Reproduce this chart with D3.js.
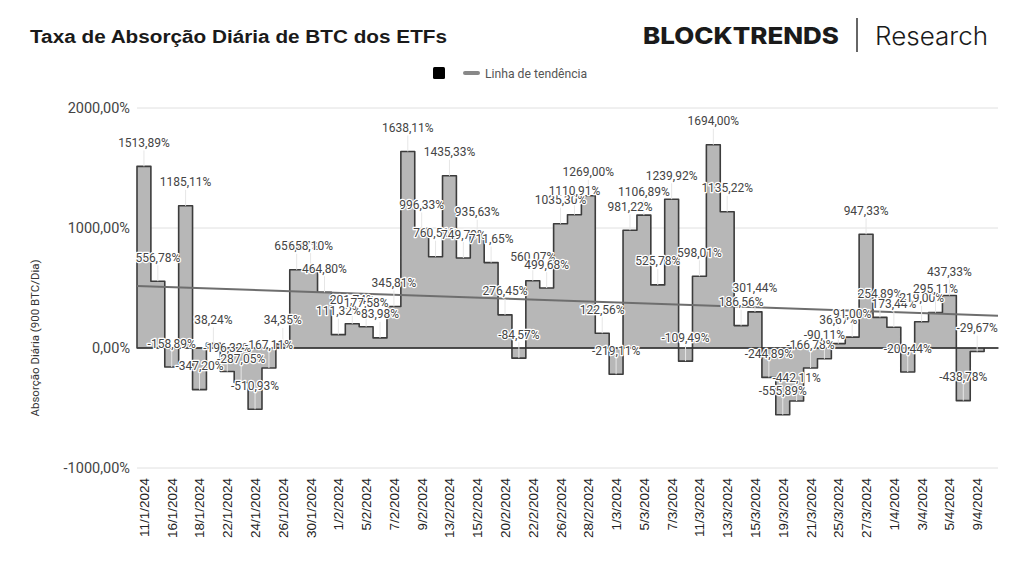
<!DOCTYPE html>
<html>
<head>
<meta charset="utf-8">
<script src="https://cdn.jsdelivr.net/npm/d3@7"></script>
<style>
  body { margin: 0; background: #fff; }
  #svgContainer { width: 1024px; height: 571px; }
</style>
</head>
<body>
<div id="svgContainer"></div>
<script>
// dias de negociacao (categorias)
var dates = [
  "11/1/2024","12/1/2024","16/1/2024","17/1/2024","18/1/2024","19/1/2024","22/1/2024","23/1/2024",
  "24/1/2024","25/1/2024","26/1/2024","29/1/2024","30/1/2024","31/1/2024",
  "1/2/2024","2/2/2024","5/2/2024","6/2/2024","7/2/2024","8/2/2024","9/2/2024","12/2/2024",
  "13/2/2024","14/2/2024","15/2/2024","16/2/2024","20/2/2024","21/2/2024","22/2/2024","23/2/2024",
  "26/2/2024","27/2/2024","28/2/2024","29/2/2024",
  "1/3/2024","4/3/2024","5/3/2024","6/3/2024","7/3/2024","8/3/2024","11/3/2024","12/3/2024",
  "13/3/2024","14/3/2024","15/3/2024","18/3/2024","19/3/2024","20/3/2024","21/3/2024","22/3/2024",
  "25/3/2024","26/3/2024","27/3/2024","28/3/2024",
  "1/4/2024","2/4/2024","3/4/2024","4/4/2024","5/4/2024","8/4/2024","9/4/2024","10/4/2024"
];

// taxa de absorcao (%), ultimo dia sem valor
var absorption = [
  1513.89, 556.78, -158.89, 1185.11, -347.20, 38.24, -196.32, -287.05,
  -510.93, -167.11, 34.35, 652.47, 658.10, 464.80,
  111.32, 201.74, 177.58, 83.98, 345.81, 1638.11, 996.33, 760.51,
  1435.33, 749.79, 935.63, 711.65, 276.45, -84.57, 560.07, 499.68,
  1035.30, 1110.91, 1269.00, 122.56,
  -219.11, 981.22, 1106.89, 525.78, 1239.92, -109.49, 598.01, 1694.00,
  1135.22, 186.56, 301.44, -244.89, -555.89, -442.11, -166.78, -90.11,
  36.67, 91.00, 947.33, 254.89,
  173.44, -200.44, 219.00, 295.11, 437.33, -438.78, -29.67, null
];

var yTicks = [-1000, 0, 1000, 2000];

var width = 1024, height = 571;
var margin = { top: 108, right: 26, bottom: 103, left: 137 };

var fmt = v => d3.format(".2f")(v).replace(".", ",").replace("−", "-") + "%";

createSVG = () => {
    var xmlns = "http://www.w3.org/2000/svg";
    var svgElem = document.createElementNS(xmlns, "svg");
    svgElem.setAttributeNS(null, "viewBox", "0 0 " + width + " " + height);
    svgElem.setAttributeNS(null, "width", width);
    svgElem.setAttributeNS(null, "height", height);
    svgElem.style.display = "block";
    document.getElementById("svgContainer").appendChild(svgElem);
    return svgElem;
}

chart = () => {
    const svg = d3.select(createSVG());
    const font = "Roboto, 'Open Sans', sans-serif";

    const x = d3.scaleBand()
        .domain(dates)
        .range([margin.left, width - margin.right])
        .padding(0);

    const y = d3.scaleLinear()
        .domain([-1000, 2000])
        .range([height - margin.bottom, margin.top]);

    const rows = dates.map((d, i) => ({ date: d, value: absorption[i], i: i }));

    // titulo e marca
    svg.append("text")
        .attr("x", 30).attr("y", 43)
        .attr("font-family", "'Liberation Sans', Arial, sans-serif")
        .attr("font-weight", 700)
        .attr("font-size", 18)
        .attr("textLength", 417)
        .attr("lengthAdjust", "spacingAndGlyphs")
        .attr("fill", "#1a1a1a")
        .text("Taxa de Absorção Diária de BTC dos ETFs");

    svg.append("text")
        .attr("x", 643).attr("y", 44)
        .attr("font-family", "Inter, sans-serif")
        .attr("font-weight", 800)
        .attr("font-size", 23)
        .attr("textLength", 196)
        .attr("lengthAdjust", "spacingAndGlyphs")
        .attr("fill", "#1a1a1a")
        .text("BLOCKTRENDS");

    svg.append("line")
        .attr("x1", 857).attr("x2", 857)
        .attr("y1", 18).attr("y2", 52)
        .attr("stroke", "#333")
        .attr("stroke-width", 1.5);

    svg.append("text")
        .attr("x", 875).attr("y", 45)
        .attr("font-family", "Inter, sans-serif")
        .attr("font-weight", 300)
        .attr("font-size", 25)
        .attr("textLength", 113)
        .attr("lengthAdjust", "spacingAndGlyphs")
        .attr("fill", "#1a1a1a")
        .text("Research");

    // legenda
    const legend = svg.append("g");
    legend.append("rect")
        .attr("x", 433).attr("y", 67)
        .attr("width", 12).attr("height", 12)
        .attr("rx", 1.5)
        .attr("fill", "#000");
    legend.append("line")
        .attr("x1", 465).attr("x2", 478)
        .attr("y1", 73).attr("y2", 73)
        .attr("stroke", "#888")
        .attr("stroke-width", 4)
        .attr("stroke-linecap", "round");
    legend.append("text")
        .attr("x", 485).attr("y", 77.5)
        .attr("font-family", font)
        .attr("font-size", 12.2)
        .attr("fill", "#555")
        .text("Linha de tendência");

    // grade
    svg.append("g")
        .selectAll("line")
        .data(yTicks.filter(t => t !== 0))
        .enter().append("line")
        .attr("x1", margin.left).attr("x2", width - margin.right)
        .attr("y1", d => y(d)).attr("y2", d => y(d))
        .attr("stroke", "#e0e0e0")
        .attr("stroke-width", 1);

    svg.append("g")
        .selectAll("text")
        .data(yTicks)
        .enter().append("text")
        .attr("x", margin.left - 7)
        .attr("y", d => y(d) + 5)
        .attr("text-anchor", "end")
        .attr("font-family", font)
        .attr("font-size", 14.5)
        .attr("fill", "#444")
        .text(d => fmt(d));

    svg.append("text")
        .attr("transform", "translate(39," + ((margin.top + height - margin.bottom) / 2 + 50) + ") rotate(-90)")
        .attr("text-anchor", "middle")
        .attr("font-family", font)
        .attr("font-size", 11.5)
        .attr("fill", "#333")
        .text("Absorção Diária (900 BTC/Dia)");

    // area em degraus
    const steps = rows.map(d => ({ x: x(d.date), v: d.value === null ? 0 : d.value }));
    steps.push({ x: x.range()[1], v: steps[steps.length - 1].v });

    const area = d3.area()
        .curve(d3.curveStepAfter)
        .x(d => d.x)
        .y0(y(0))
        .y1(d => y(d.v));

    svg.append("path")
        .datum(steps)
        .attr("d", area)
        .attr("fill", "#b7b7b7")
        .attr("stroke", "#3c3c3c")
        .attr("stroke-width", 1.6)
        .attr("stroke-linejoin", "round");

    // linha do zero
    svg.append("line")
        .attr("x1", margin.left).attr("x2", width - margin.right)
        .attr("y1", y(0)).attr("y2", y(0))
        .attr("stroke", "#333")
        .attr("stroke-width", 1.2);

    // linha de tendencia (minimos quadrados)
    const known = rows.filter(d => d.value !== null);
    const mx = d3.mean(known, d => d.i), my = d3.mean(known, d => d.value);
    const slope = d3.sum(known, d => (d.i - mx) * (d.value - my)) / d3.sum(known, d => (d.i - mx) * (d.i - mx));
    const icpt = my - slope * mx;
    const xi = d3.scaleLinear().domain([-0.5, dates.length - 0.5]).range(x.range());

    svg.append("line")
        .attr("x1", xi(-0.5)).attr("x2", xi(dates.length - 0.5))
        .attr("y1", y(icpt + slope * -0.5))
        .attr("y2", y(icpt + slope * (dates.length - 0.5)))
        .attr("stroke", "#6e6e6e")
        .attr("stroke-width", 2);

    // rotulos de dados
    const labeled = known;
    const bw = x.bandwidth();

    svg.append("g")
        .selectAll("line")
        .data(labeled)
        .enter().append("line")
        .attr("x1", d => x(d.date) + bw / 2).attr("x2", d => x(d.date) + bw / 2)
        .attr("y1", d => y(d.value) - 16).attr("y2", d => y(d.value))
        .attr("stroke", "#e6e6e6")
        .attr("stroke-width", 1);

    svg.append("g")
        .selectAll("text")
        .data(labeled)
        .enter().append("text")
        .attr("x", d => x(d.date) + bw / 2)
        .attr("y", d => y(d.value) - 19.5)
        .attr("text-anchor", "middle")
        .attr("font-family", font)
        .attr("font-size", 12)
        .attr("fill", "#444")
        .attr("stroke", "#fff")
        .attr("stroke-width", 2.5)
        .attr("stroke-linejoin", "round")
        .attr("paint-order", "stroke")
        .text(d => fmt(d.value));

    // eixo x, rotulo a cada dois dias
    svg.append("g")
        .selectAll("text")
        .data(dates.filter((d, i) => i % 2 === 0))
        .enter().append("text")
        .attr("transform", d => "translate(" + (x(d) + bw / 2 + 5) + "," + (height - margin.bottom + 10) + ") rotate(-90)")
        .attr("text-anchor", "end")
        .attr("font-family", "'Liberation Sans', Arial, sans-serif")
        .attr("font-size", 13.5)
        .attr("fill", "#222")
        .text(d => d);

    return svg.node();
};

chart();
</script>
</body>
</html>
